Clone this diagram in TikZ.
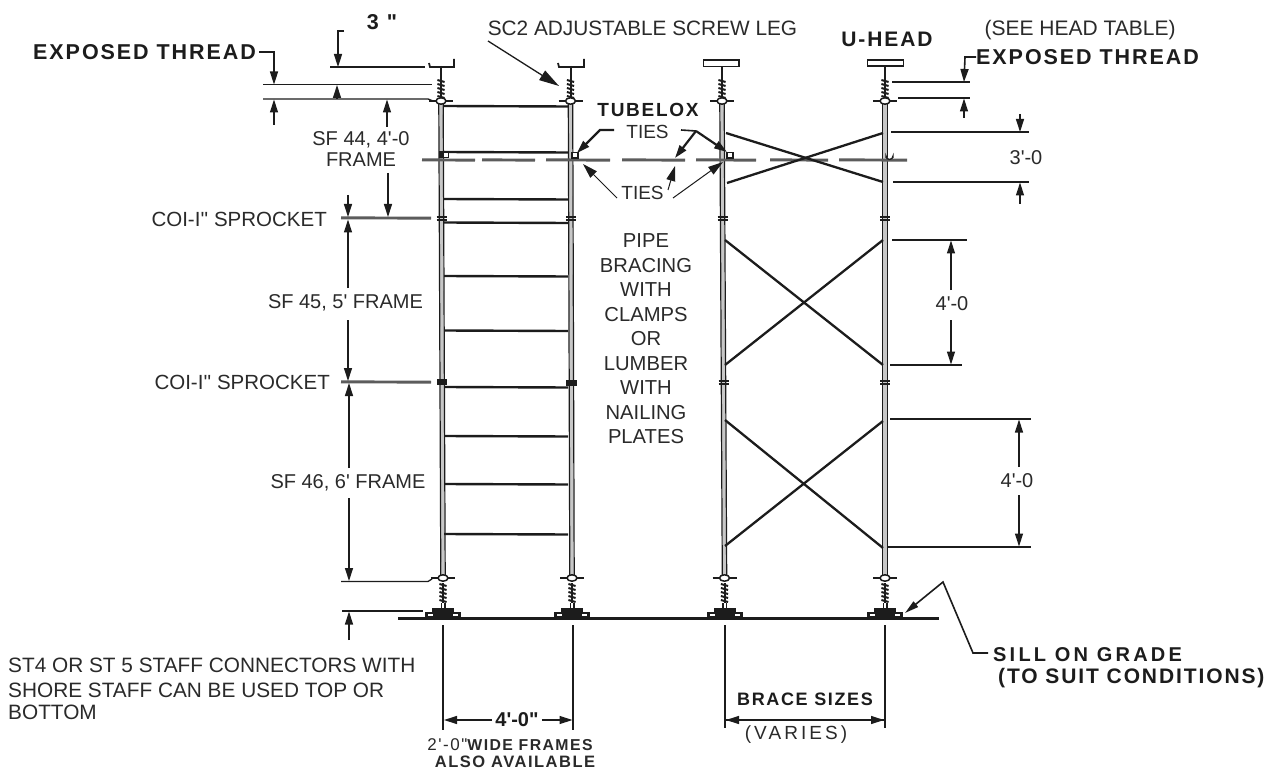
\documentclass[tikz,border=0pt]{standalone}
\usepackage{fontspec}
\usetikzlibrary{arrows.meta}
\setmainfont[Ligatures=TeXOff]{Liberation Sans}
\newfontfamily\stencil[LetterSpace=9.0,Ligatures=TeXOff]{Liberation Sans}
\newfontfamily\stencilwide[LetterSpace=16.0,Ligatures=TeXOff]{Liberation Sans}
\definecolor{ink}{HTML}{1C1C1C}
\definecolor{txt}{HTML}{2A2A2A}
\tikzset{
  x=1pt,y=-1pt,
  lab/.style={font=\fontsize{20}{24}\selectfont,text=txt,inner sep=0pt},
  sten/.style={font=\stencil\bfseries\fontsize{21.5}{24}\selectfont,text=ink,inner sep=0pt},
  tubefill/.style={draw=black!22,line width=3.4pt},
  tubeline/.style={draw=ink,line width=1.2pt},
  rung/.style={draw=ink,line width=2.4pt},
  tiebar/.style={draw=ink!72,line width=2.9pt},
  brace/.style={draw=ink,line width=2.3pt},
  dimline/.style={draw=ink,line width=1.3pt},
  leader/.style={draw=ink,line width=1.6pt},
  arr/.style={draw=ink,line width=1.3pt,-{Triangle[length=13pt,width=8pt]}},
  thickarr/.style={draw=ink,line width=2.2pt,-{Triangle[length=13pt,width=8pt]}},
  thinarr/.style={draw=ink,line width=1pt,-{Triangle[length=15pt,width=9pt]}},
  legscrew/.pic={
    \draw[ink,line width=2pt] (0,0) -- (0,#1+21);
    \foreach \d in {0,4,8,12,16}{
      \draw[ink,line width=2pt] (-3.6,#1+1+\d) -- (3.6,#1+3+\d);
    }
  },
  nut/.pic={
    \draw[ink,line width=1.5pt] (-12,0) -- (12,0);
    \draw[ink,line width=1.5pt,fill=white] (0,0) ellipse [x radius=5,y radius=3.2];
  },
  ubase/.pic={
    \fill[ink] (-11,-11) rectangle (11,-5);
    \fill[ink] (-18,-7) rectangle (18,0);
    \fill[white] (-15,-5) rectangle (-10,-2.5);
    \fill[white] (10,-5) rectangle (15,-2.5);
    \fill[ink] (-2.5,-16) rectangle (2.5,-10);
    \fill[white] (-1,-16) rectangle (1,-11);
  },
  coupler/.pic={
    \draw[ink,line width=2pt] (-5,-1.2) -- (5,-1.2);
    \draw[ink,line width=2pt] (-5,1.6) -- (5,1.6);
  },
}
\newcommand{\ShoreLeg}[2]{%
  \draw[tubefill] (#1,104) -- (#2,575);
  \draw[tubeline] ({#1-2.2},104) -- ({#2-2.2},575);
  \draw[tubeline] ({#1+2.2},104) -- ({#2+2.2},575);
  \pic at (#1,66) {legscrew=13};
  \pic at (#2,583) {legscrew=0};
  \pic at (#1,101) {nut};
  \pic at (#2,578) {nut};
  \pic at (#2,618.5) {ubase};
  \pic at ({#1+(#2-#1)*0.25},218) {coupler};
  \pic at ({#1+(#2-#1)*0.6},382) {coupler};
}
\begin{document}
\begin{tikzpicture}
\useasboundingbox (0,0) rectangle (1280,770);
\fill[white] (0,0) rectangle (1280,770);

% legs
\ShoreLeg{441}{443}
\ShoreLeg{570.5}{572}
\ShoreLeg{722}{724.5}
\ShoreLeg{885}{885}

% U heads and plates
\draw[ink,line width=1.8pt] (429,63) -- (430,67) -- (454,67) -- (454,59);
\draw[ink,line width=1.8pt] (558,63) -- (559,67) -- (584,67) -- (584,59);
\draw[ink,line width=1.6pt,fill=white] (703.5,60) rectangle (739,66.5);
\draw[ink,line width=1.6pt,fill=white] (867.5,60) rectangle (903.5,66);

% ground
\draw[ink,line width=3pt] (398,618.7) -- (939,618.7);

% rungs
\foreach \ry in {106,152,199,222.5,276,330.5,387,436,484,534}{
  \draw[rung] (444,\ry) -- (568,\ry+0.5);
}

% ties (dashed horizontal)
\foreach \a/\b in {422/475,482/535,546/610,622/685,696/756,770/828,839/907}{
  \draw[tiebar] (\a,159.8) -- (\b,160.2);
}

% clamps
\fill[ink] (439,151) rectangle (449,158);
\fill[white] (444,153.5) rectangle (447.5,157);
\draw[ink,line width=1.3pt,fill=white] (572,152.5) rectangle (578,158);
\draw[ink,line width=1.3pt,fill=white] (727,158) rectangle (733,152.5);
\draw[ink,line width=1.3pt,fill=white] (886,158) -- (886,156) arc (180:0:3.5) -- (893,158);
\fill[ink] (566,380) rectangle (577,386);
\fill[ink] (437,379) rectangle (447,385);

% bracing
\draw[brace] (726,133) -- (883,182);
\draw[brace] (727,183) -- (883,133);
\draw[brace] (725,240) -- (883,365);
\draw[brace] (725,365) -- (883,240);
\draw[brace] (725,420) -- (883,548);
\draw[brace] (725,546) -- (883,421);

% left dimension extension lines
\draw[dimline] (330,67) -- (425,67);
\draw[dimline] (263,84.5) -- (432,84.5);
\draw[dimline] (263,99) -- (428,99) -- (433,101);
\draw[tiebar] (341,217.8) -- (431,218.2);
\draw[tiebar] (341,381.8) -- (431,382.2);
\draw[dimline] (341,581.5) -- (428,581.5) -- (432,579);
\draw[dimline] (342,611) -- (423,611);

% left labels
\node[sten,anchor=west] (expL) at (33,52) {EXPOSED THREAD};
\node[sten,anchor=center] (threeIn) at (382,22) {3 "};
\node[lab,font=\fontsize{20.8}{24}\selectfont] (sc2) at (642.5,28) {SC2 ADJUSTABLE SCREW LEG};
\node[lab] (sf44a) at (361,140) {SF 44, 4'-0};
\node[lab] (sf44b) at (361,160) {FRAME};
\node[lab,anchor=east,font=\fontsize{20.5}{24}\selectfont] (coi1) at (327,219) {COI-I'' SPROCKET};
\node[lab,anchor=east,font=\fontsize{20.5}{24}\selectfont] (coi2) at (330,382) {COI-I'' SPROCKET};
\node[lab] (sf45) at (345.5,303) {SF 45, 5' FRAME};
\node[lab] (sf46) at (348,483) {SF 46, 6' FRAME};
\node[lab,anchor=west,font=\fontsize{20.8}{24}\selectfont] (st1) at (8,665) {ST4 OR ST 5 STAFF CONNECTORS WITH};
\node[lab,anchor=west,font=\fontsize{20.8}{24}\selectfont] (st2) at (8,690) {SHORE STAFF CAN BE USED TOP OR};
\node[lab,anchor=west,font=\fontsize{20.8}{24}\selectfont] (st3) at (8,712) {BOTTOM};

% left dimension arrows
\draw[leader,-{Triangle[length=13pt,width=8pt]}] (344,31) -- (338,31) -- (338,67);
\draw[leader,-{Triangle[length=13pt,width=8pt]}] (expL.east) ++(3,0) -- (274,52) -- (274,84.5);
\draw[arr] (274,125) -- (274,99.5);
\draw[arr] (337,98) -- (337,85);
\draw[arr] (387,127) -- (387,99.5);
\draw[arr] (388,173) -- (388,217);
\draw[arr] (348,195) -- (348,217);
\draw[arr] (348,288) -- (348,219.5);
\draw[arr] (348,320) -- (348,381);
\draw[arr] (349,468) -- (349,383);
\draw[arr] (349,498) -- (349,581);
\draw[arr] (349,640) -- (349,611.5);

% centre labels
\node[sten,anchor=center,font=\stencil\bfseries\fontsize{19}{22}\selectfont] (tubelox) at (648,110) {TUBELOX};
\node[lab,font=\fontsize{19}{22}\selectfont] (ties1) at (647.5,132) {TIES};
\node[lab,font=\fontsize{19}{22}\selectfont] (ties2) at (642.5,193) {TIES};
\node[lab,align=center,font=\fontsize{20.2}{24.5}\selectfont] (pipe) at (646,339)
  {PIPE\\BRACING\\WITH\\CLAMPS\\OR\\LUMBER\\WITH\\NAILING\\PLATES};

% tie leaders
\draw[thickarr] (614,130) -- (600,130) -- (577,153);
\coordinate (tj) at (696,131);
\draw[leader] (681,130) -- (tj);
\draw[thickarr] (tj) -- (675,158);
\draw[thickarr] (tj) -- (727,152);
\draw[thinarr] (617,198) -- (583,164);
\draw[thinarr] (668,190) -- (675,166);
\draw[thinarr] (673,198) -- (723,162);

% SC2 arrow
\draw[draw=ink,line width=1.3pt,-{Triangle[length=20pt,width=11pt]}] (488,41) -- (559,86);

% right labels
\node[sten,anchor=center,font=\stencil\bfseries\fontsize{21}{24}\selectfont] (uhead) at (887,39) {U-HEAD};
\node[lab,font=\fontsize{21}{24}\selectfont] (seehead) at (1080,30) {(SEE HEAD TABLE)};
\node[sten,anchor=west] (expR) at (976,57) {EXPOSED THREAD};
\node[lab] (three) at (1026,158) {3'-0};
\node[lab] (four1) at (952,304) {4'-0};
\node[lab] (four2) at (1017,481) {4'-0};

% right dimension lines
\draw[dimline] (892,82) -- (970,82);
\draw[dimline] (898,98) -- (970,98);
\draw[leader,-{Triangle[length=13pt,width=8pt]}] (expR.west) -- (965,57) -- (964,82);
\draw[arr] (964,118) -- (964,98.5);
\draw[dimline] (891,132) -- (1029,132);
\draw[dimline] (893,182) -- (1029,182);
\draw[arr] (1020,114) -- (1020,132);
\draw[arr] (1020,204) -- (1020,182.5);
\draw[dimline] (892,240) -- (967,240);
\draw[dimline] (890,365) -- (962,365);
\draw[arr] (951,290) -- (951,240.5);
\draw[arr] (951,320) -- (951,364.5);
\draw[dimline] (890,419) -- (1031,419);
\draw[dimline] (888,547) -- (1031,547);
\draw[arr] (1019,467) -- (1019,419.5);
\draw[arr] (1019,495) -- (1019,546.5);

% bottom dimensions
\draw[dimline] (443,625) -- (443,730);
\draw[dimline] (573,625) -- (573,730);
\draw[dimline] (725,625) -- (725,728);
\draw[dimline] (885,625) -- (885,728);
\node[sten,anchor=center,font=\bfseries\fontsize{20}{22}\selectfont] (fourb) at (517,720) {4'-0"};
\draw[arr] (fourb.west) ++(-3,0) -- (444,720);
\draw[arr] (fourb.east) ++(3,0) -- (572.5,720);
\draw[arr] (726,720) -- (884,720);
\draw[arr] (884,720) -- (726,720);
\node[sten,anchor=center,font=\stencil\bfseries\fontsize{18}{20}\selectfont] (bsize) at (805,699) {BRACE SIZES};
\node[lab,font=\stencilwide\fontsize{19}{22}\selectfont] (varies) at (796,735) {(VARIES)};
\node[lab,font=\stencil\bfseries\fontsize{15.8}{18}\selectfont] (wide) at (510,745) {{\mdseries\fontsize{17}{18}\selectfont 2'-0"}WIDE FRAMES};
\node[lab,font=\stencil\bfseries\fontsize{16.5}{18}\selectfont] (also) at (515,762) {ALSO AVAILABLE};

% sill
\node[sten,anchor=west,font=\stencilwide\bfseries\fontsize{20}{24}\selectfont] (sill) at (993,655) {SILL ON GRADE};
\node[sten,anchor=west,font=\stencil\bfseries\fontsize{21}{24}\selectfont] (suit) at (998,678) {(TO SUIT CONDITIONS)};
\draw[leader,-{Triangle[length=14pt,width=7pt]}] (988,653) -- (973,653) -- (943,582) -- (905,613);
\end{tikzpicture}
\end{document}
